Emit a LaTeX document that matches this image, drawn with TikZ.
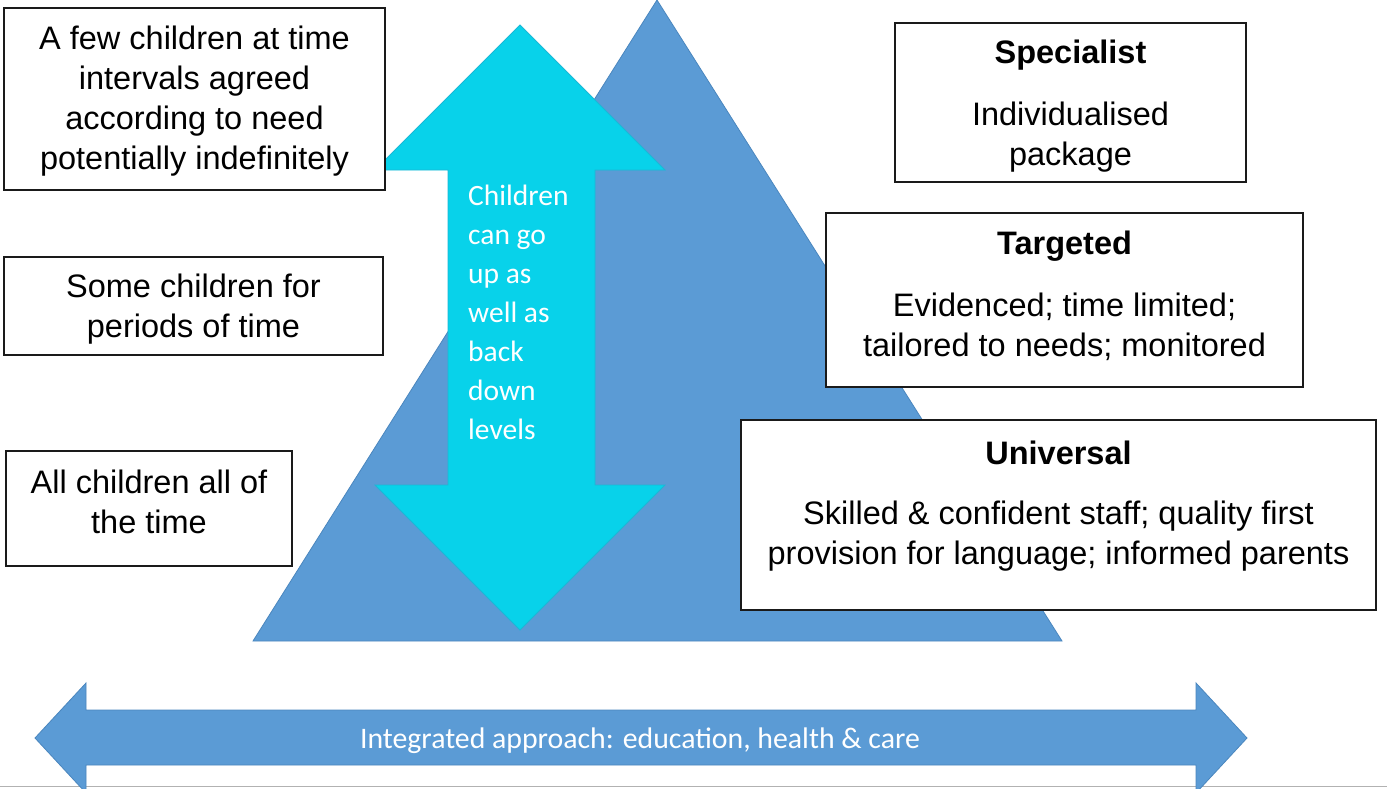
\documentclass[tikz,border=0pt]{standalone}
\usepackage{fontspec}
\setmainfont{Liberation Sans}
\newfontfamily\calibrifont{Carlito}
\definecolor{pyramidblue}{HTML}{5B9BD5}
\definecolor{pyramidedge}{HTML}{4A86BE}
\definecolor{movecyan}{HTML}{08D2EA}
\definecolor{moveedge}{HTML}{1AB8D6}
\definecolor{boxedge}{HTML}{1A1A1A}
\tikzset{
  levelbox/.style={draw=boxedge, line width=1.4pt, fill=white, inner sep=0pt},
  boxtext/.style={align=center, inner sep=0pt, text=black,
    font=\fontsize{32.5}{40}\selectfont},
  boxtitle/.style={inner sep=0pt, text=black,
    font=\fontsize{32.5}{36}\bfseries\selectfont},
  arrowtext/.style={align=left, inner sep=0pt, text=white,
    font=\calibrifont\fontsize{29.5}{39}\selectfont},
}
\begin{document}
\begin{tikzpicture}[x=1pt,y=-1pt]
  \useasboundingbox (0,0) rectangle (1387,788);
  \fill[white] (0,0) rectangle (1387,788);
  \draw[gray!60, line width=1pt] (0,786) -- (1387,786);

  % the pyramid of levels
  \filldraw[fill=pyramidblue, draw=pyramidedge, line width=0.8pt]
    (657,0) -- (1062,641) -- (253,641) -- cycle;

  % two-way arrow for moving between levels
  \filldraw[fill=movecyan, draw=moveedge, line width=0.8pt]
    (520,25) -- (665,170) -- (595,170) -- (595,485) -- (665,485)
    -- (520,630) -- (375,485) -- (448,485) -- (448,170) -- (375,170) -- cycle;
  \node[arrowtext, anchor=north west] (movetext) at (468,185)
    {Children\\can go\\up as\\well as\\back\\down\\levels};

  % integrated approach arrow along the bottom
  \filldraw[fill=pyramidblue, draw=pyramidedge, line width=0.8pt]
    (35,738) -- (86,683) -- (86,710) -- (1196,710) -- (1196,683)
    -- (1247,738) -- (1196,793) -- (1196,765) -- (86,765) -- (86,793) -- cycle;
  \node[inner sep=0pt, text=white, font=\calibrifont\fontsize{29.8}{32}\selectfont]
    (integrated) at (640,741) {Integrated approach: education, health \& care};

  % how many children, left column
  \node[levelbox, minimum width=381pt, minimum height=182pt] (few) at (194.5,99) {};
  \node[boxtext] (fewtext) at (194.5,101)
    {A few children at time\\intervals agreed\\according to need\\potentially indefinitely};

  \node[levelbox, minimum width=379pt, minimum height=98pt] (some) at (193.5,306) {};
  \node[boxtext] (sometext) at (193.5,309) {Some children for\\periods of time};

  \node[levelbox, minimum width=286pt, minimum height=115pt] (all) at (149,508.5) {};
  \node[boxtext] (alltext) at (149,502) {All children all of\\the time};

  % type of provision, right column
  \node[levelbox, minimum width=351pt, minimum height=159pt] (spec) at (1070.5,102.5) {};
  \node[boxtitle] (spectitle) at (1070.5,55) {Specialist};
  \node[boxtext] (spectext) at (1070.5,137) {Individualised\\package};

  \node[levelbox, minimum width=477pt, minimum height=174pt] (targ) at (1064.5,300) {};
  \node[boxtitle] (targtitle) at (1064.5,246) {Targeted};
  \node[boxtext] (targtext) at (1064.5,327)
    {Evidenced; time limited;\\tailored to needs; monitored};

  \node[levelbox, minimum width=635pt, minimum height=190pt] (univ) at (1058.5,515) {};
  \node[boxtitle] (univtitle) at (1058.5,453) {Universal};
  \node[boxtext] (univtext) at (1058.5,536)
    {Skilled \& confident staff; quality first\\provision for language; informed parents};
\end{tikzpicture}
\end{document}
